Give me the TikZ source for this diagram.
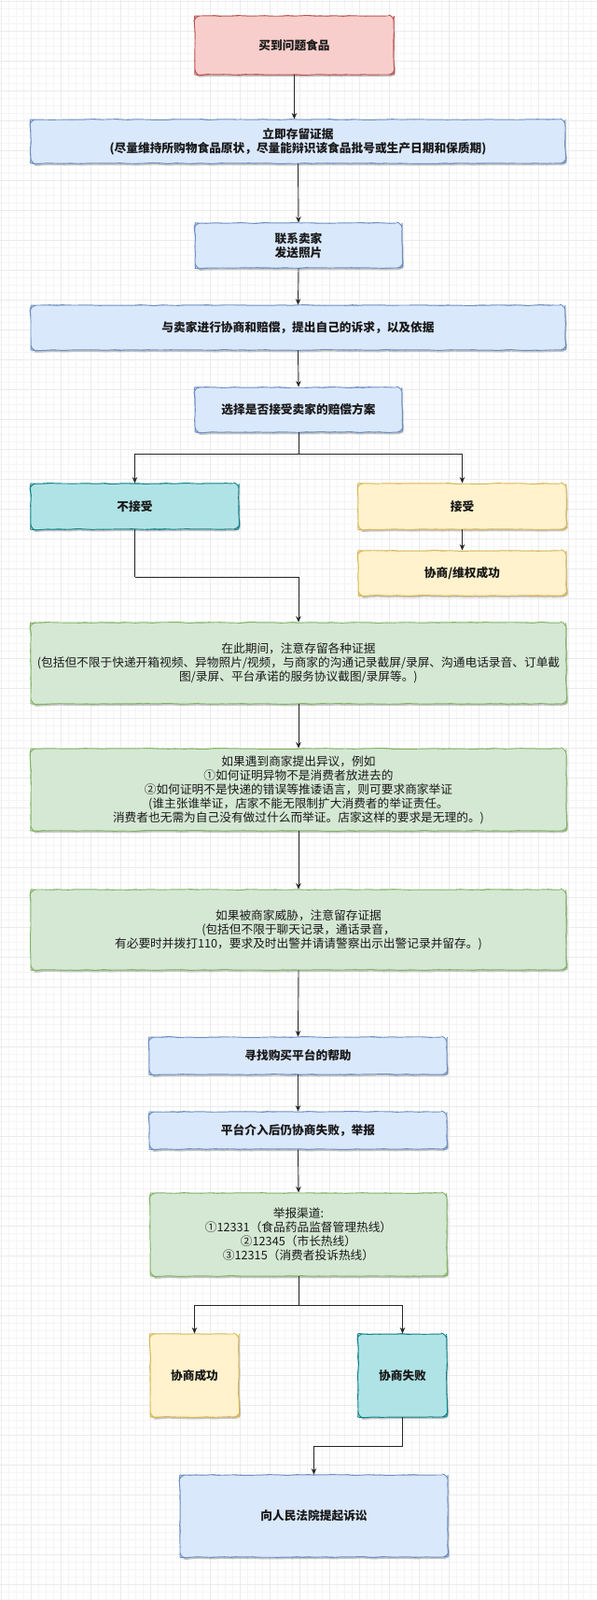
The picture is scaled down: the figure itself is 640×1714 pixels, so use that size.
\documentclass[tikz,border=0pt]{standalone}
\usepackage{fontspec}
\setmainfont{Noto Sans CJK SC}
\usetikzlibrary{shadows,arrows.meta,calc,decorations.pathmorphing}
\definecolor{redfill}{HTML}{F8CECC}\definecolor{redline}{HTML}{B85450}
\definecolor{bluefill}{HTML}{DAE8FC}\definecolor{blueline}{HTML}{6C8EBF}
\definecolor{greenfill}{HTML}{D5E8D4}\definecolor{greenline}{HTML}{82B366}
\definecolor{yelfill}{HTML}{FFF2CC}\definecolor{yelline}{HTML}{D6B656}
\definecolor{tealfill}{HTML}{B0E3E6}\definecolor{tealline}{HTML}{0E8088}
\definecolor{gridminor}{HTML}{F5F5F5}\definecolor{gridmajor}{HTML}{EBEBEB}
\begin{document}
\begin{tikzpicture}[x=1pt,y=-1pt,
  box/.style={draw, rounded corners=6pt, line width=0.9pt, inner sep=0pt, align=center,
    font=\fontsize{12.7}{15}\selectfont, text=black!90,
    decorate, decoration={random steps, segment length=6pt, amplitude=0.45pt},
    drop shadow={shadow xshift=1.2pt,shadow yshift=-2pt,fill=black,opacity=0.22}},
  boldbox/.style={box, font=\fontsize{12.7}{15}\selectfont\bfseries},
  redbox/.style={boldbox, fill=redfill, draw=redline},
  bluebox/.style={boldbox, fill=bluefill, draw=blueline},
  tealbox/.style={boldbox, fill=tealfill, draw=tealline},
  yelbox/.style={boldbox, fill=yelfill, draw=yelline},
  greenbox/.style={box, fill=greenfill, draw=greenline},
  conn/.style={draw=black!85, line width=0.9pt, -{Stealth[length=6.5pt,width=5.5pt]}},
  wire/.style={draw=black!85, line width=0.9pt}
]
\useasboundingbox (0,0) rectangle (640,1714);
\fill[white] (0,0) rectangle (640,1714);
\foreach \i in {0,...,80} {\draw[gridminor, line width=0.6pt] ({1+8*\i},0) -- ({1+8*\i},1714);}
\foreach \i in {0,...,214} {\draw[gridminor, line width=0.6pt] (0,{1+8*\i}) -- (640,{1+8*\i});}
\foreach \i in {0,...,20} {\draw[gridmajor, line width=0.6pt] ({1+32*\i},0) -- ({1+32*\i},1714);}
\foreach \i in {0,...,53} {\draw[gridmajor, line width=0.6pt] (0,{1+32*\i}) -- (640,{1+32*\i});}

\node[redbox, minimum width=213pt, minimum height=63pt] (b1) at (315.5,48.5) {买到问题食品};
\node[bluebox, minimum width=573pt, minimum height=47pt] (b2) at (319.5,151.5) {立即存留证据\\(尽量维持所购物食品原状，尽量能辩识该食品批号或生产日期和保质期)};
\node[bluebox, minimum width=222pt, minimum height=48pt] (b3) at (320,263) {联系卖家\\发送照片};
\node[bluebox, minimum width=573pt, minimum height=48pt] (b4) at (319.5,351) {与卖家进行协商和赔偿，提出自己的诉求，以及依据};
\node[bluebox, minimum width=222pt, minimum height=48pt] (b5) at (320,439) {选择是否接受卖家的赔偿方案};
\node[tealbox, minimum width=223pt, minimum height=49pt] (b6) at (144.5,542.5) {不接受};
\node[yelbox, minimum width=223pt, minimum height=49pt] (b7) at (495.5,542.5) {接受};
\node[yelbox, minimum width=223pt, minimum height=48pt] (b8) at (495.5,614) {协商/维权成功};
\node[greenbox, minimum width=574pt, minimum height=87pt] (b9) at (320,710.5) {在此期间，注意存留各种证据\\(包括但不限于快递开箱视频、异物照片/视频，与商家的沟通记录截屏/录屏、沟通电话录音、订单截\\图/录屏、平台承诺的服务协议截图/录屏等。)};
\node[greenbox, minimum width=574pt, minimum height=88pt] (b10) at (320,846) {如果遇到商家提出异议，例如\\①如何证明异物不是消费者放进去的\\②如何证明不是快递的错误等推诿语言，则可要求商家举证\\(谁主张谁举证，店家不能无限制扩大消费者的举证责任。\\消费者也无需为自己没有做过什么而举证。店家这样的要求是无理的。)};
\node[greenbox, minimum width=574pt, minimum height=86pt] (b11) at (320,996) {如果被商家威胁，注意留存证据\\(包括但不限于聊天记录，通话录音，\\有必要时并拨打110，要求及时出警并请请警察出示出警记录并留存。)};
\node[bluebox, minimum width=319pt, minimum height=40pt] (b12) at (319.5,1131) {寻找购买平台的帮助};
\node[bluebox, minimum width=319pt, minimum height=40pt] (b13) at (319.5,1211) {平台介入后仍协商失败，举报};
\node[greenbox, minimum width=318pt, minimum height=89pt] (b14) at (320,1322.5) {举报渠道:\\①12331（食品药品监督管理热线）\\②12345（市长热线）\\③12315（消费者投诉热线）};
\node[yelbox, minimum width=95pt, minimum height=89pt] (b15) at (208.5,1473.5) {协商成功};
\node[tealbox, minimum width=95pt, minimum height=89pt] (b16) at (431.5,1473.5) {协商失败};
\node[bluebox, minimum width=287pt, minimum height=88pt] (b17) at (336.5,1624) {向人民法院提起诉讼};

\draw[conn] (b1.south) -- (b1.south |- b2.north);
\draw[conn] (b2.south) -- (b3.north);
\draw[conn] (b3.south) -- (b4.south |- b4.north);
\draw[conn] (b4.south) -- (b5.north);
\coordinate (s5) at ($(b5.south)+(0,23)$);
\draw[wire] (b5.south) -- (s5);
\draw[conn] (s5) -| (b6.north);
\draw[conn] (s5) -| (b7.north);
\draw[conn] (b7.south) -- (b8.north);
\coordinate (s6) at ($(b6.south)+(0,51)$);
\draw[wire] (b6.south) -- (s6);
\draw[conn] (s6) -| (b9.north);
\draw[conn] (b9.south) -- (b10.north);
\draw[conn] (b10.south) -- (b11.north);
\draw[conn] (b11.south) -- (b12.south |- b12.north);
\draw[conn] (b12.south) -- (b13.north);
\draw[conn] (b13.south) -- (b14.south |- b14.north);
\coordinate (s14) at ($(b14.south)+(0,31)$);
\draw[wire] (b14.south) -- (s14);
\draw[conn] (s14) -| (b15.north);
\draw[conn] (s14) -| (b16.north);
\coordinate (s16) at ($(b16.south)+(0,31)$);
\draw[wire] (b16.south) -- (s16);
\draw[conn] (s16) -| (b17.north);
\end{tikzpicture}
\end{document}
